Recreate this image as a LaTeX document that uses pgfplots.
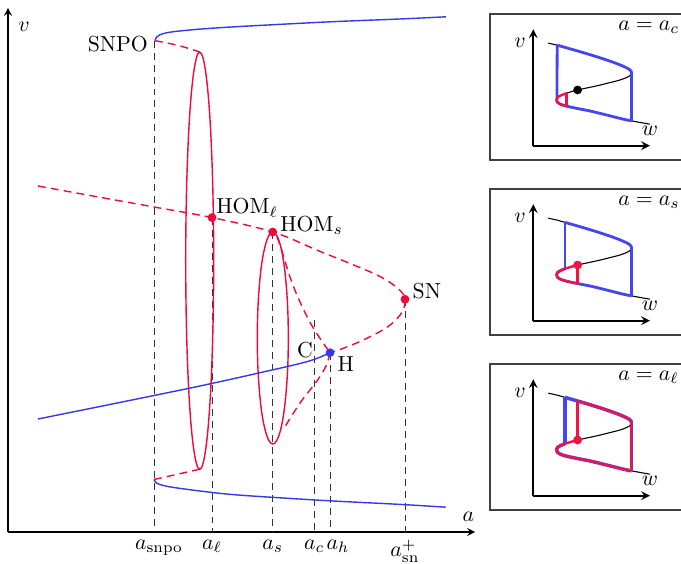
\documentclass[border=0pt]{standalone}
\usepackage{pgfplots}
\pgfplotsset{compat=1.18}
\definecolor{myblue}{RGB}{55,55,235}
\definecolor{myred}{RGB}{240,10,60}
\definecolor{iblue}{RGB}{70,70,240}
\definecolor{ired}{RGB}{240,20,70}
\begin{document}
\begin{tikzpicture}[x=0.46pt,y=0.46pt]
\pgfplotsset{
  vd/.style={black!80, line width=0.45pt, dash pattern=on 3.2pt off 2.3pt},
  bl/.style={myblue, line width=0.65pt},
  rd/.style={myred, line width=0.65pt},
  rdd/.style={myred, line width=0.65pt, dash pattern=on 3.6pt off 2.4pt},
  inset/.style={anchor=south west, x=0.46pt, y=0.46pt,
    xmin=0, xmax=116.7, ymin=0, ymax=116.5,
    axis lines=left, axis line style={-stealth, line width=0.8pt},
    xtick=\empty, ytick=\empty, clip=false},
  crv/.style={black, line width=0.5pt, smooth, tension=0.55},
}
% ---------------- main diagram ----------------
\begin{axis}[
  at={(8,32)}, anchor=south west,
  x=0.46pt, y=0.46pt,
  xmin=0, xmax=467, ymin=0, ymax=524,
  axis lines=left,
  axis line style={-stealth, line width=0.6pt},
  ytick=\empty,
  xtick={146,204,264.7,306.3,322,397},
  xticklabels={{\hspace{4.6pt}$a_{\mathrm{snpo}}$},{$a_\ell$},{$a_s$},{$a_c$\hspace{3.6pt}},{\hspace{7.4pt}$a_h$},{$a_{\mathrm{sn}}^+$}},
  major tick length=0pt,
  clip=false,
]
% vertical guide lines
\addplot[vd] coordinates {(146,491.3) (146,0)};
\addplot[vd] coordinates {(204,314.4) (204,0)};
\addplot[vd] coordinates {(264.7,300) (264.7,0)};
\addplot[vd] coordinates {(306.3,212) (306.3,0)};
\addplot[vd] coordinates {(322,179.3) (322,0)};
\addplot[vd] coordinates {(397,232.7) (397,0)};
% stable periodic orbits (max / min)
\addplot[bl, smooth, tension=0.6] coordinates {(147,491.3) (148.5,494.8) (152,497.3) (162,499.8) (182,502) (212,504.3) (260,507) (325,510.3) (392,513) (438,515.2)};
\addplot[bl, smooth, tension=0.6] coordinates {(146,52.5) (148.7,48.9) (155,46.6) (165.3,44.6) (192,41) (225,37.4) (275,34) (325,31) (392,27.6) (437.7,24.8)};
% unstable periodic orbits near SNPO
\addplot[rdd, smooth] coordinates {(147,491.3) (170,486.6) (192,480)};
\addplot[rdd] coordinates {(146,52.5) (191,62.6)};
% large homoclinic family (ellipse)
\addplot[rd, smooth cycle, tension=0.6] coordinates {
 (205.7,271.3) (205.2,325.3) (203.8,375.7) (201.6,418.9) (198.7,452.0) (195.3,472.9)
 (191.7,480.0) (188.1,472.9) (184.7,452.0) (181.8,418.9) (179.6,375.7) (178.2,325.3)
 (177.7,271.3) (178.2,217.3) (179.6,166.9) (181.8,123.7) (184.7,90.6) (188.1,69.7)
 (191.7,62.6) (195.3,69.7) (198.7,90.6) (201.6,123.7) (203.8,166.9) (205.2,217.3)};
% small homoclinic family (ellipse)
\addplot[rd, smooth cycle, tension=0.6] coordinates {
 (280.3,194) (279.8,221.4) (278.2,247) (275.8,269) (272.6,285.8) (268.8,296.4)
 (264.8,300) (260.8,296.4) (257.1,285.8) (253.8,269) (251.4,247) (249.8,221.4)
 (249.3,194) (249.8,166.6) (251.4,141) (253.8,119) (257.1,102.2) (260.8,91.6)
 (264.8,88) (268.8,91.6) (272.6,102.2) (275.8,119) (278.2,141) (279.8,166.6)};
% unstable periodic orbits from H
\addplot[rdd, smooth, tension=0.6] coordinates {(269,295) (273,284) (282,255) (292,230) (305.3,204) (322,179.3)};
\addplot[rdd, smooth, tension=0.6] coordinates {(322,179.3) (318,166) (308.7,150.7) (292,129) (275.3,102.5)};
% stable lower equilibrium branch
\addplot[bl, smooth] coordinates {(30,113) (92,125.5) (146,136.5) (192,146) (242,157) (292,168.5) (308.7,173.5) (322,179.3)};
% unstable middle/upper equilibrium branch
\addplot[rdd, smooth, tension=0.6] coordinates {(30,346) (92,334.7) (146,325) (204,314.4) (264.7,300) (308.7,282) (342,268.5) (370,256.5) (387,246) (395.5,237.5) (397,232.7) (396,224) (390,214.5) (378,204) (355.3,192) (335.3,183.7) (322,179.3)};
% special points
\addplot[only marks, mark=*, mark size=1.8pt, myred] coordinates {(204,314.4) (264.7,300) (397,232.7)};
\addplot[only marks, mark=*, mark size=1.8pt, myblue] coordinates {(322,179.3)};
% labels
\node[anchor=base east, inner sep=0pt] at (axis cs:140.3,480) {SNPO};
\node[anchor=base west, inner sep=0pt] at (axis cs:208,318) {HOM$_\ell$};
\node[anchor=base west, inner sep=0pt] at (axis cs:272,300.3) {HOM$_s$};
\node[anchor=base west, inner sep=0pt] at (axis cs:404.3,233) {SN};
\node[anchor=base west, inner sep=0pt] at (axis cs:288.7,174.7) {C};
\node[anchor=base west, inner sep=0pt] at (axis cs:329.3,160.3) {H};
\node[inner sep=0pt] at (axis cs:16,505) {$v$};
\node[inner sep=0pt] at (axis cs:460.3,15.3) {$a$};
\end{axis}
% ---------------- inset frames ----------------
\draw[black!75, line width=0.5pt] (490,404) rectangle (700,550);
\draw[black!75, line width=0.5pt] (490,229) rectangle (700,375);
\draw[black!75, line width=0.5pt] (490,54) rectangle (700,200);
% ---------------- inset 1: a = a_c ----------------
\begin{axis}[inset, at={(533.3,418.3)}]
\addplot[crv] coordinates {(15,102.5) (24,100.5) (31.7,98.3) (46.7,94) (60,90) (73.3,85.7) (85,81.5) (92,78.5) (96.5,76) (98.3,73.5) (97.5,71) (94,68.5) (86.7,65.7) (75,62.7) (63.3,59.8) (44.3,55.7) (33.3,52.5) (27,50) (24,48) (23.3,46) (24,43.5) (27,41.5) (33.3,39.5) (45,37) (56.7,34.7) (70,31.5) (80,29) (90,26.5) (97.3,25) (107,23.2) (116.7,21.5)};
\addplot[iblue, line width=1.3pt, smooth, tension=0.55] coordinates {(24,100.5) (31.7,98.3) (46.7,94) (60,90) (73.3,85.7) (85,81.5) (92,78.5) (96.5,76) (98.3,73.5)};
\addplot[iblue, line width=1.3pt] coordinates {(98.1,74) (98.1,24.8)};
\addplot[iblue, line width=1.3pt, smooth, tension=0.55] coordinates {(98.3,24.8) (90,26.5) (80,29) (70,31.5) (56.7,34.7) (45,37) (33.3,39.5) (27,41.5) (24,43.5) (23.3,46)};
\addplot[iblue, line width=1.3pt] coordinates {(23.6,45.5) (23.9,100.6)};
\addplot[ired, line width=1.1pt, smooth, tension=0.55] coordinates {(33.3,52.5) (27,50) (24,48) (23.3,46) (24,43.5) (27,41.5) (33.3,39.5)};
\addplot[ired, line width=1.1pt] coordinates {(33.3,39.5) (33.3,52.5)};
\addplot[only marks, mark=*, mark size=1.8pt, black] coordinates {(44.3,55.7)};
\node[inner sep=0pt] at (axis cs:-13.3,102.7) {$v$};
\node[inner sep=0pt] at (axis cs:116.7,14.7) {$w$};
\node[anchor=west, inner sep=0pt] at (axis cs:84.7,118.7) {$a=a_c$};
\end{axis}
% ---------------- inset 2: a = a_s ----------------
\begin{axis}[inset, at={(533.3,243.3)}]
\addplot[crv] coordinates {(15,102.5) (24,100.5) (31.7,98.3) (46.7,94) (60,90) (73.3,85.7) (85,81.5) (92,78.5) (96.5,76) (98.3,73.5) (97.5,71) (94,68.5) (86.7,65.7) (75,62.7) (63.3,59.8) (44.3,55.7) (33.3,52.5) (27,50) (24,48) (23.3,46) (24,43.5) (27,41.5) (33.3,39.5) (45,37) (56.7,34.7) (70,31.5) (80,29) (90,26.5) (97.3,25) (107,23.2) (116.7,21.5)};
\addplot[iblue, line width=1.3pt, smooth, tension=0.55] coordinates {(31.7,98.3) (46.7,94) (60,90) (73.3,85.7) (85,81.5) (92,78.5) (96.5,76) (98.3,73.5)};
\addplot[iblue, line width=1.3pt] coordinates {(98.1,74) (98.1,24.8)};
\addplot[iblue, line width=1.3pt, smooth, tension=0.55] coordinates {(98.3,24.8) (90,26.5) (80,29) (70,31.5) (56.7,34.7) (45,37) (33.3,39.5) (27,41.5) (24,43.5) (23.3,46) (24,48) (27,50) (31.7,52)};
\addplot[iblue, line width=1.3pt] coordinates {(31.7,52) (31.7,98.3)};
\addplot[ired, line width=1.1pt, smooth, tension=0.55] coordinates {(44.3,55.7) (33.3,52.5) (27,50) (24,48) (23.3,46) (24,43.5) (27,41.5) (33.3,39.5) (44.3,37.1)};
\addplot[ired, line width=1.1pt] coordinates {(44.3,37.1) (44.3,55.7)};
\addplot[only marks, mark=*, mark size=1.8pt, ired] coordinates {(44.3,55.7)};
\node[inner sep=0pt] at (axis cs:-13.3,102.7) {$v$};
\node[inner sep=0pt] at (axis cs:116.7,14.7) {$w$};
\node[anchor=west, inner sep=0pt] at (axis cs:84.7,118.2) {$a=a_s$};
\end{axis}
% ---------------- inset 3: a = a_l ----------------
\begin{axis}[inset, at={(533.3,68.3)}]
\addplot[crv] coordinates {(15,102.5) (24,100.5) (31.7,98.3) (46.7,94) (60,90) (73.3,85.7) (85,81.5) (92,78.5) (96.5,76) (98.3,73.5) (97.5,71) (94,68.5) (86.7,65.7) (75,62.7) (63.3,59.8) (44.3,55.7) (33.3,52.5) (27,50) (24,48) (23.3,46) (24,43.5) (27,41.5) (33.3,39.5) (45,37) (56.7,34.7) (70,31.5) (80,29) (90,26.5) (97.3,25) (107,23.2) (116.7,21.5)};
\addplot[iblue, line width=1.6pt, smooth, tension=0.55] coordinates {(31.7,98.3) (46.7,94) (60,90) (73.3,85.7) (85,81.5) (92,78.5) (96.5,76) (98.3,73.5)};
\addplot[iblue, line width=1.6pt] coordinates {(98.1,74) (98.1,24.8)};
\addplot[iblue, line width=1.6pt, smooth, tension=0.55] coordinates {(98.3,24.8) (90,26.5) (80,29) (70,31.5) (56.7,34.7) (45,37) (33.3,39.5) (27,41.5) (24,43.5) (23.3,46) (24,48) (27,50) (31.7,52)};
\addplot[iblue, line width=1.6pt] coordinates {(31.7,52) (31.7,98.3)};
\addplot[ired, line width=1.1pt] coordinates {(44.3,55.7) (44.3,94.4)};
\addplot[ired, line width=1.1pt, smooth, tension=0.55] coordinates {(44.3,94.4) (46.7,94) (60,90) (73.3,85.7) (85,81.5) (92,78.5) (96.5,76) (97.6,73.5)};
\addplot[ired, line width=1.1pt] coordinates {(97.4,74) (97.4,25)};
\addplot[ired, line width=1.1pt, smooth, tension=0.55] coordinates {(97.6,25) (90,26.5) (80,29) (70,31.5) (56.7,34.7) (45,37) (33.3,39.5) (27,41.5) (24,43.5) (23.3,46) (24,48) (27,50) (33.3,52.5) (44.3,55.7)};
\addplot[only marks, mark=*, mark size=1.8pt, ired] coordinates {(44.3,55.7)};
\node[inner sep=0pt] at (axis cs:-13.3,102.7) {$v$};
\node[inner sep=0pt] at (axis cs:116.7,14.7) {$w$};
\node[anchor=west, inner sep=0pt] at (axis cs:84.7,118.2) {$a=a_\ell$};
\end{axis}
\pgfresetboundingbox
\useasboundingbox (0,0) rectangle (681,564);
\end{tikzpicture}
\end{document}
